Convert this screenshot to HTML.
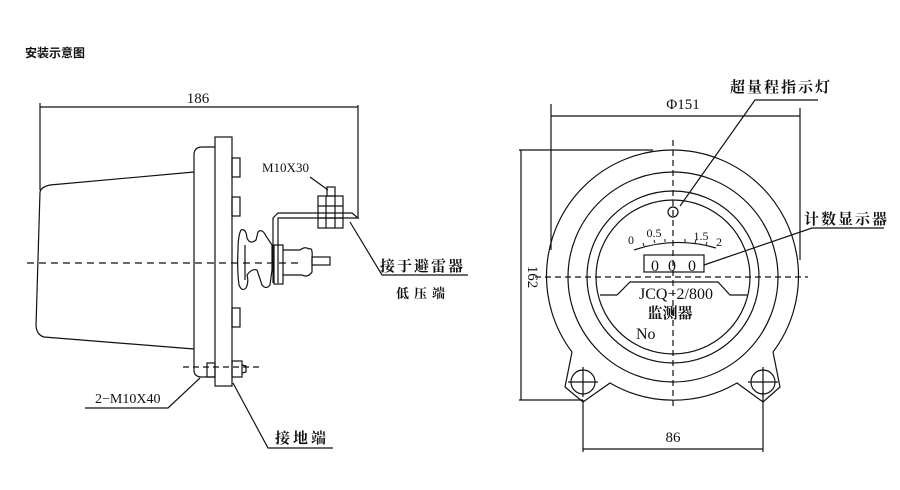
<!DOCTYPE html>
<html><head><meta charset="utf-8"><style>
html,body{margin:0;padding:0;background:#fff;width:900px;height:490px;overflow:hidden}
svg{display:block}
text{font-family:"Liberation Serif","Noto Serif CJK SC",serif;fill:#111}
.cjk{font-family:"Liberation Serif","Noto Serif CJK SC",serif;font-weight:bold}
.tt{font-family:"Liberation Sans","Noto Sans CJK SC",sans-serif;font-weight:bold}
</style></head><body>
<svg width="900" height="490" viewBox="0 0 900 490" fill="none" stroke="#111" stroke-width="1.2">
<text x="25" y="57" class="tt" style="font-size:12px" stroke="none">安装示意图</text>

<!-- LEFT VIEW -->
<line x1="40" y1="107" x2="358" y2="107"/>
<line x1="40" y1="103" x2="40" y2="190"/>
<line x1="358" y1="105" x2="358" y2="218"/>
<text x="198" y="103" font-size="15" text-anchor="middle" stroke="none">186</text>
<path d="M194,172 L50,185 Q41,187 40,192 L36,326 Q37,335 44,337 L194,349"/>
<path d="M215,147 L202,147 Q194,147 194,155 L194,370 Q194,377 202,377 L215,377"/>
<rect x="215" y="137" width="17" height="249"/>
<rect x="232" y="158" width="8" height="19"/>
<rect x="232" y="197" width="8" height="19"/>
<rect x="232" y="308" width="8" height="19"/>
<rect x="207" y="363" width="8" height="14"/>
<rect x="232" y="361" width="10" height="16"/>
<path d="M242,365 L246,366 L246,372 L242,373"/>
<line x1="183" y1="367" x2="262" y2="367" stroke-dasharray="6,4"/>
<line x1="27" y1="263" x2="300" y2="263" stroke-dasharray="7,5"/>
<!-- insulator -->
<path d="M241,230 Q238,236 238,250 Q237,270 239,285 Q242,292 246,288 Q249,282 247,275 Q252,268 257,270 L262,285 Q266,290 270,285 L272,270 Q272,255 272,245 L266,236 Q262,228 258,232 L256,240 Q250,245 247,238 Q246,228 241,230 Z"/>
<line x1="245" y1="245" x2="245" y2="280"/>
<!-- bracket -->
<path d="M273,283 L273,218 L278,213 L352,213 L358,218 L278,218 L278,283"/>
<rect x="274" y="245" width="9" height="39"/>
<path d="M283,250 L300,250 Q305,246 309,249 Q313,247 312,258 L312,272 Q308,278 302,275 L283,275"/>
<rect x="312" y="257" width="18" height="8"/>
<!-- M10x30 bolt -->
<rect x="318" y="196" width="25" height="32"/>
<line x1="318" y1="206" x2="343" y2="206"/><line x1="318" y1="218" x2="343" y2="218"/>
<line x1="326" y1="196" x2="326" y2="228"/><line x1="335" y1="196" x2="335" y2="228"/>
<rect x="327" y="187" width="8" height="9"/>
<text x="262" y="172" font-size="13" stroke="none">M10X30</text>
<line x1="310" y1="177" x2="328" y2="190"/>
<path d="M350,222 L382,275 L468,275"/>
<text x="380" y="271" class="cjk" style="font-size:15px" stroke="none" letter-spacing="2">接于避雷器</text>
<text x="396" y="298" class="cjk" style="font-size:13px" stroke="none" letter-spacing="5">低压端</text>
<path d="M200,378 L168,408 L85,408"/>
<text x="95" y="403" font-size="14" stroke="none">2−M10X40</text>
<path d="M233,383 L268,448 L333,448"/>
<text x="275" y="443" class="cjk" style="font-size:15px" stroke="none" letter-spacing="3">接地端</text>

<!-- RIGHT VIEW -->
<line x1="551" y1="116" x2="800" y2="116"/>
<line x1="551" y1="104" x2="551" y2="250"/>
<line x1="800" y1="108" x2="800" y2="260"/>
<text x="683" y="109" font-size="15" text-anchor="middle" stroke="none">Φ151</text>
<line x1="521" y1="150" x2="521" y2="400"/>
<line x1="519" y1="150" x2="653" y2="150"/>
<line x1="519" y1="400" x2="583" y2="400"/>
<text x="0" y="0" font-size="15" stroke="none" text-anchor="middle" transform="translate(528,277) rotate(90)">162</text>
<line x1="583" y1="449" x2="763" y2="449"/>
<line x1="583" y1="400" x2="583" y2="452"/>
<line x1="763" y1="392" x2="763" y2="452"/>
<text x="673" y="442" font-size="15" text-anchor="middle" stroke="none">86</text>

<path d="M572,352 L565,387 L583,402 L610,383 A126,126 0 0 0 737,383 L763,402 L780,387 L773,352"/>
<path d="M572,352 A126,126 0 1 1 773,352" />
<circle cx="673" cy="277" r="105"/>
<circle cx="673" cy="277" r="86"/>
<circle cx="673" cy="277" r="77"/>
<circle cx="583" cy="382" r="12"/><line x1="568" y1="382" x2="598" y2="382"/><line x1="583" y1="367" x2="583" y2="397"/>
<circle cx="763" cy="382" r="12"/><line x1="748" y1="382" x2="778" y2="382"/><line x1="763" y1="367" x2="763" y2="397"/>
<line x1="673" y1="140" x2="673" y2="410" stroke-dasharray="6,4"/>
<line x1="535" y1="277" x2="808" y2="277" stroke-dasharray="6,4"/>
<circle cx="673" cy="212" r="5"/>
<path d="M680,206 L755,100 L818,100"/>
<text x="730" y="92" class="cjk" style="font-size:15px" stroke="none" letter-spacing="2">超量程指示灯</text>
<path d="M634,250 Q675,236 716,248"/>
<g stroke-width="1">
<line x1="644" y1="246" x2="643" y2="243"/><line x1="655" y1="243" x2="654" y2="240"/><line x1="665" y1="242" x2="665" y2="239"/>
<line x1="685" y1="242" x2="685" y2="239"/><line x1="695" y1="243" x2="696" y2="240"/><line x1="706" y1="245" x2="707" y2="242"/>
</g>
<text x="631" y="244" font-size="12" text-anchor="middle" stroke="none">0</text>
<text x="654" y="237" font-size="12" text-anchor="middle" stroke="none">0.5</text>
<text x="701" y="240" font-size="12" text-anchor="middle" stroke="none">1.5</text>
<text x="719" y="246" font-size="12" text-anchor="middle" stroke="none">2</text>
<rect x="644" y="255" width="60" height="17"/>
<text x="651" y="271" font-size="16" stroke="none">0</text>
<text x="668" y="271" font-size="16" stroke="none">0</text>
<text x="688" y="271" font-size="16" stroke="none">0</text>
<path d="M704,265 L812,228 L884,228"/>
<text x="804" y="224" class="cjk" style="font-size:15px" stroke="none" letter-spacing="2">计数显示器</text>
<path d="M600,295 L617,295 L630,282 L718,282 L730,295 L747,295"/>
<text x="676" y="299" font-size="16" text-anchor="middle" stroke="none">JCQ−2/800</text>
<text x="670" y="318" class="cjk" style="font-size:15px" text-anchor="middle" stroke="none">监测器</text>
<text x="636" y="339" font-size="16" stroke="none">No</text>
</svg>
</body></html>
